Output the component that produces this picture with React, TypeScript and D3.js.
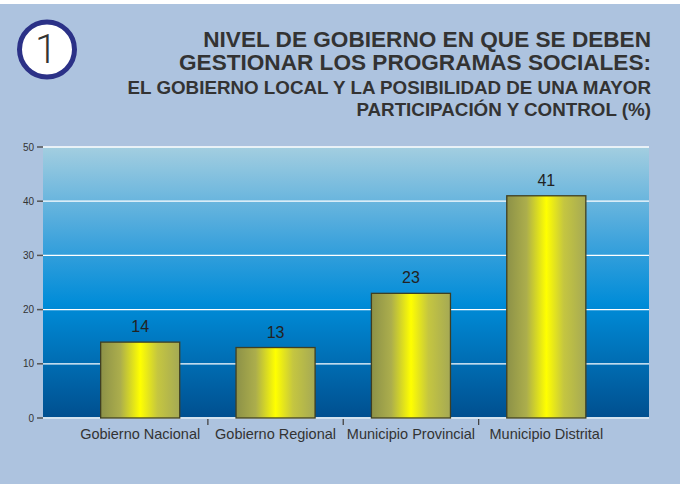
import React from 'react'
import * as d3 from 'd3'

const categories = ['Gobierno Nacional', 'Gobierno Regional', 'Municipio Provincial', 'Municipio Distrital']
const values = [14, 13, 23, 41]
const yTicks = [0, 10, 20, 30, 40, 50]
const titleLines = ['NIVEL DE GOBIERNO EN QUE SE DEBEN', 'GESTIONAR LOS PROGRAMAS SOCIALES:']
const subtitleLines = ['EL GOBIERNO LOCAL Y LA POSIBILIDAD DE UNA MAYOR', 'PARTICIPACIÓN Y CONTROL (%)']

const width = 685
const height = 484
const plot = { left: 43, right: 649, top: 147, bottom: 418 }

export default function App() {
  const x = d3.scaleBand().domain(categories).range([72.5, 614]).paddingInner(0.416).paddingOuter(0.208)
  const y = d3.scaleLinear().domain([0, 50]).range([plot.bottom, plot.top])
  const font = '"Liberation Sans", Arial, sans-serif'
  const step = x.step()
  const dividers = categories.slice(1).map((c) => x(c)! - (step - x.bandwidth()) / 2)

  return (
    <div style={{ position: 'fixed', left: 0, top: 0, width, height, overflow: 'hidden' }}>
      <svg width={width} height={height} style={{ display: 'block', fontFamily: font }}>
        <defs>
          <linearGradient id="sky" x1="0" y1="0" x2="0" y2="1">
            <stop offset="0" stopColor="#a3cee0" />
            <stop offset="0.35" stopColor="#3ea3dc" />
            <stop offset="0.58" stopColor="#008cd8" />
            <stop offset="1" stopColor="#004f8f" />
          </linearGradient>
          <linearGradient id="bar" x1="0" y1="0" x2="1" y2="0">
            <stop offset="0" stopColor="#8c9148" />
            <stop offset="0.25" stopColor="#acae4c" />
            <stop offset="0.5" stopColor="#ffff00" />
            <stop offset="0.72" stopColor="#c5c640" />
            <stop offset="1" stopColor="#a5a955" />
          </linearGradient>
        </defs>
        <rect width={width} height={height} fill="#fff" />
        <rect x={0} y={4} width={680} height={height - 4} fill="#adc3df" />

        <circle cx={47} cy={49.5} r={27.5} fill="#fff" stroke="#2b3187" strokeWidth={5} />
        <text x={46} y={63} textAnchor="middle" fontSize={40} fontWeight={300} fontFamily="Roboto, sans-serif" fill="#333">1</text>

        {titleLines.map((t, i) => (
          <text key={t} x={651} y={47 + i * 23} textAnchor="end" fontSize={22.6} fontWeight="bold" fill="#333">{t}</text>
        ))}
        {subtitleLines.map((t, i) => (
          <text key={t} x={651} y={94 + i * 22} textAnchor="end" fontSize={18.8} fontWeight="bold" fill="#333">{t}</text>
        ))}

        <rect x={plot.left} y={plot.top} width={plot.right - plot.left} height={plot.bottom - plot.top} fill="url(#sky)" />
        {yTicks.map((t) => (
          <g key={t}>
            <line x1={plot.left} x2={plot.right} y1={y(t)} y2={y(t)} stroke={t === 0 ? '#d3e2ef' : '#ffffff'} strokeWidth={t === 0 ? 2 : 1.3} />
            <line x1={37} x2={plot.left} y1={y(t)} y2={y(t)} stroke="#555" strokeWidth={1.5} />
            <text x={34} y={y(t) + 3.5} textAnchor="end" fontSize={10} fill="#333">{t}</text>
          </g>
        ))}

        {categories.map((c, i) => (
          <g key={c}>
            <rect x={x(c)} y={y(values[i])} width={x.bandwidth()} height={y(0) - y(values[i])} fill="url(#bar)" stroke="#3f3f22" strokeWidth={1.3} />
            <text x={x(c)! + x.bandwidth() / 2} y={y(values[i]) - 10} textAnchor="middle" fontSize={16} fill="#222">{values[i]}</text>
            <text x={x(c)! + x.bandwidth() / 2} y={439} textAnchor="middle" fontSize={14.5} fill="#333">{c}</text>
          </g>
        ))}
        {dividers.map((d, i) => (
          <line key={i} x1={d} x2={d} y1={419} y2={425} stroke="#444" strokeWidth={1.3} />
        ))}
      </svg>
    </div>
  )
}
